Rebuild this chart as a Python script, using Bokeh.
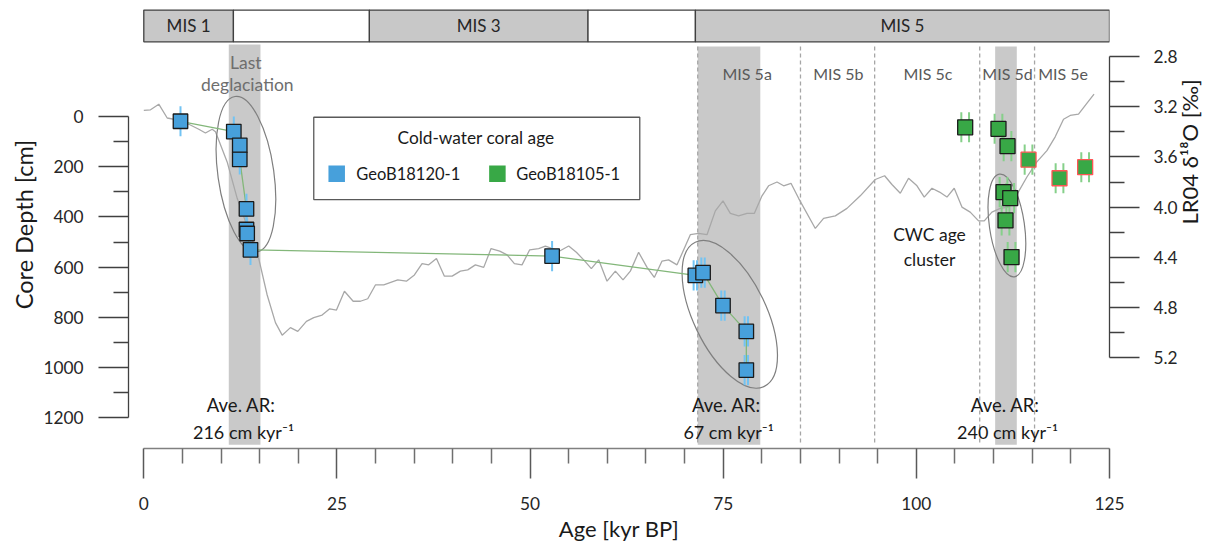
import math
from bokeh.plotting import figure
from bokeh.models import (Range1d, LinearAxis, FixedTicker, ColumnDataSource,
                          NumeralTickFormatter, Title)
from bokeh.core.properties import value
from bokeh.embed import file_html
from bokeh.resources import INLINE

# ---------------- data ----------------
# LR04 benthic d18O stack
lr04_age = [0.0, 0.87, 1.94, 3.03, 3.88, 5.83, 7.12, 7.98, 8.85, 9.28, 10.79,
            12.09, 14.88, 15.97, 17.04, 17.91, 18.98, 19.93, 21.05, 22.00, 23.08,
            24.07, 24.94, 25.97, 27.10, 28.04, 28.99, 29.98, 31.06, 32.87, 33.99,
            35.03, 36.02, 36.88, 37.88, 38.91, 39.91, 40.98, 41.93, 42.92, 44.00,
            44.95, 46.07, 47.02, 47.97, 48.96, 49.95, 51.11, 51.98, 53.83, 55.00,
            55.99, 56.94, 57.93, 58.88, 59.96, 61.04, 62.03, 62.98, 64.05, 65.14,
            66.08, 67.08, 67.93, 69.02, 70.74, 71.82, 72.90, 73.98, 74.97, 75.92,
            76.99, 78.08, 79.02, 80.02, 80.87, 81.96, 82.82, 83.77, 84.76, 86.92,
            87.99, 89.51, 91.02, 92.74, 94.68, 95.89, 96.84, 97.92, 98.99, 100.08,
            101.02, 102.02, 103.00, 103.96, 104.90, 105.90, 106.97, 108.05, 108.79,
            109.78, 110.86, 111.93, 113.10, 114.31, 115.60, 116.90, 117.97, 119.05,
            119.91, 120.99, 121.99, 123.0]
lr04_d18o = [3.23, 3.225, 3.18, 3.29, 3.30, 3.34, 3.38, 3.41, 3.38, 3.40, 3.64,
             3.93, 4.41, 4.70, 4.92, 5.02, 4.96, 4.99, 4.91, 4.88, 4.86,
             4.81, 4.82, 4.67, 4.75, 4.75, 4.73, 4.62, 4.62, 4.58, 4.59,
             4.54, 4.45, 4.46, 4.41, 4.55, 4.55, 4.51, 4.50, 4.46, 4.48,
             4.33, 4.35, 4.38, 4.45, 4.46, 4.34, 4.33, 4.31, 4.35, 4.31,
             4.36, 4.42, 4.49, 4.42, 4.59, 4.51, 4.58, 4.51, 4.36, 4.48,
             4.56, 4.43, 4.42, 4.46, 4.22, 4.21, 4.22, 4.03, 3.95, 4.05,
             4.07, 4.05, 4.05, 3.91, 3.83, 3.80, 3.83, 3.81, 3.93, 4.17,
             4.09, 4.07, 4.01, 3.91, 3.78, 3.75, 3.82, 3.89, 3.77, 3.83,
             3.92, 3.85, 3.88, 3.92, 3.85, 4.00, 4.04, 4.11, 4.11,
             4.04, 4.01, 4.00, 3.89, 3.76, 3.64, 3.55, 3.44, 3.30,
             3.27, 3.26, 3.18, 3.10]

# GeoB18120-1 coral ages (kyr BP) vs core depth (cm)
blue_age = [4.75, 11.65, 12.42, 12.42, 13.29, 13.29, 13.38, 13.81, 52.85,
            71.39, 72.39, 74.97, 77.99, 77.99]
blue_depth = [19, 60, 115, 171, 368, 450, 466, 531, 556, 633, 622, 753, 856, 1010]
blue_err = [60, 60, 60, 60, 60, 60, 60, 60, 60, 60, 60, 60, 60, 60]
blue_double = [0, 0, 0, 0, 0, 0, 0, 0, 0, 1, 1, 1, 1, 1]

# GeoB18105-1 coral ages
green_age = [106.32, 110.63, 111.80, 114.52, 118.53, 121.85, 111.28, 112.15,
             111.54, 112.32]
green_depth = [43, 49, 118, 172, 246, 202, 301, 325, 414, 560]
green_err = [60, 60, 60, 60, 60, 60, 60, 60, 60, 60]
green_flag = [0, 0, 0, 1, 1, 1, 0, 0, 0, 0]

# Marine isotope stages (top bar)
mis_start = [0.0, 11.6, 29.2, 57.5, 71.4]
mis_end = [11.6, 29.2, 57.5, 71.4, 125.0]
mis_label = ["MIS 1", "", "MIS 3", "", "MIS 5"]
mis_shaded = [1, 0, 1, 0, 1]

# shaded periods
band_start = [11.0, 71.7, 110.2]
band_end = [15.1, 79.8, 113.0]

# MIS 5 substage boundaries and labels
sub_bound = [71.7, 85.0, 94.6, 108.2, 115.3]
sub_label = ["MIS 5a", "MIS 5b", "MIS 5c", "MIS 5d", "MIS 5e"]
sub_label_age = [78.1, 89.9, 101.5, 111.8, 119.0]

ar_age = [12.9, 75.7, 111.8]
ar_text = ["216 cm kyr⁻¹", "67 cm kyr⁻¹", "240 cm kyr⁻¹"]

x_ticks = [0, 25, 50, 75, 100, 125]
x_minor = [5, 10, 15, 20, 30, 35, 40, 45, 55, 60, 65, 70, 80, 85, 90, 95,
           105, 110, 115, 120]
y_ticks = [0, 200, 400, 600, 800, 1000, 1200]
y_minor = [100, 300, 500, 700, 900, 1100]
r_ticks = [2.8, 3.2, 3.6, 4.0, 4.4, 4.8, 5.2]
r_minor = [3.0, 3.4, 3.8, 4.2, 4.6, 5.0]

# ---------------- styling ----------------
FONT = "Lato"
BLUE = "#47A0DB"
GREEN = "#38A846"
BLUE_ERR = "#72C3F3"
GREEN_ERR = "#86D08A"
SHADE = "#c9c9c9"
TICK_FS = "17.3px"

p = figure(width=1220, height=546,
           x_range=Range1d(-1.98, 125.0), y_range=Range1d(1322.3, -462.0),
           output_backend="svg", toolbar_location=None,
           min_border_left=128, min_border_right=111, min_border_top=0,
           min_border_bottom=98, outline_line_color=None,
           background_fill_color="white", border_fill_color="white")
p.xgrid.visible = False
p.ygrid.visible = False
p.extra_y_ranges = {"d18o": Range1d(5.923, 2.354)}

# bottom axis
xa = p.xaxis[0]
xa.bounds = (0, 125)
xa.ticker = FixedTicker(ticks=x_ticks, minor_ticks=x_minor)
xa.major_label_standoff = 18
xa.major_label_text_font = FONT
xa.major_label_text_font_size = TICK_FS
xa.major_label_text_color = "#262626"
xa.major_tick_out = 30
xa.major_tick_in = 0
xa.minor_tick_out = 15
xa.minor_tick_in = 0
xa.axis_line_color = "#808080"
xa.axis_line_width = 1.5
xa.major_tick_line_color = "#595959"
xa.major_tick_line_width = 1.5
xa.minor_tick_line_color = "#6f6f6f"
xa.minor_tick_line_width = 1.5

# bottom axis title as a panel title below the axis
p.add_layout(Title(text="Age [kyr BP]", align="center", offset=7, standoff=1,
                   text_font=FONT, text_font_size="22px",
                   text_font_style="normal", text_color="#1a1a1a"), "below")

# left axis
ya = p.yaxis[0]
ya.bounds = (0, 1200)
ya.ticker = FixedTicker(ticks=y_ticks, minor_ticks=y_minor)
ya.axis_label = "Core Depth [cm]"
ya.axis_label_text_font = FONT
ya.axis_label_text_font_size = "23.5px"
ya.axis_label_text_font_style = "normal"
ya.axis_label_text_color = "#1a1a1a"
ya.axis_label_standoff = 2
ya.major_label_standoff = 15
ya.major_label_text_font = FONT
ya.major_label_text_font_size = TICK_FS
ya.major_label_text_color = "#262626"
ya.major_tick_out = 30
ya.major_tick_in = 0
ya.minor_tick_out = 15
ya.minor_tick_in = 0
ya.axis_line_color = "#404040"
ya.axis_line_width = 1.3
ya.major_tick_line_color = "#404040"
ya.major_tick_line_width = 1.3
ya.minor_tick_line_color = "#404040"
ya.minor_tick_line_width = 1.3

# right axis (LR04)
ra = LinearAxis(y_range_name="d18o", bounds=(2.8, 5.2),
                ticker=FixedTicker(ticks=r_ticks, minor_ticks=r_minor),
                formatter=NumeralTickFormatter(format="0.0"))
ra.major_label_standoff = 14
ra.major_label_text_font = FONT
ra.major_label_text_font_size = TICK_FS
ra.major_label_text_color = "#262626"
ra.major_tick_out = 30
ra.major_tick_in = 0
ra.minor_tick_out = 15
ra.minor_tick_in = 0
ra.axis_line_color = "#404040"
ra.axis_line_width = 1.3
ra.major_tick_line_color = "#404040"
ra.major_tick_line_width = 1.3
ra.minor_tick_line_color = "#404040"
ra.minor_tick_line_width = 1.3
ra.axis_label = "LR04 δ¹⁸O [‰]"
ra.axis_label_text_font = FONT
ra.axis_label_text_font_size = "22px"
ra.axis_label_text_font_style = "normal"
ra.axis_label_text_color = "#1a1a1a"
ra.axis_label_standoff = 9
if "axis_label_orientation" in ra.properties():
    # reads bottom-to-top, as in the reference
    ra.axis_label_orientation = math.pi / 2
p.add_layout(ra, "right")

# top MIS bar
mis_src = ColumnDataSource(dict(
    l=mis_start, r=mis_end,
    c=["#c8c8c8" if s else "white" for s in mis_shaded],
    xm=[(a + b) / 2 for a, b in zip(mis_start, mis_end)],
    t=mis_label))
p.quad(left="l", right="r", top=-424, bottom=-297.5, fill_color="c",
       line_color="#404040", line_width=1.3, source=mis_src)
p.text(x="xm", y=-362, text="t", source=mis_src, text_font=value(FONT),
       text_font_size="17px", text_color="#262626", text_align="center",
       text_baseline="middle")

# shaded bands
p.quad(left=band_start, right=band_end, top=[-287, -279, -279],
       bottom=[1307.6] * 3, fill_color=SHADE, line_color=None)

# dashed substage boundaries
p.segment(x0=sub_bound, x1=sub_bound, y0=[-279] * 5, y1=[1302] * 5,
          line_color="#a6a6a6", line_width=1.3, line_dash="4 3")
p.text(x=sub_label_age, y=[-170] * 5, text=sub_label, text_font=value(FONT),
       text_font_size="16px", text_color="#595959", text_align="center",
       text_baseline="middle")

# LR04 curve
p.line(lr04_age, lr04_d18o, y_range_name="d18o", line_color="#a8a8a8",
       line_width=1.3)

# ellipses around groups
p.ellipse(x=[13.22, 75.85, 111.72], y=[230, 788, 434], width=[56, 73, 35],
          height=[157, 160, 104],
          angle=[math.radians(8), math.radians(25.6), math.radians(8.3)],
          width_units="screen", height_units="screen", fill_color=None,
          line_color="#7f7f7f", line_width=1.2)

# annotations
p.text(x=[13.2, 13.4], y=[-216, -126], text=["Last", "deglaciation"],
       text_font=value(FONT), text_font_size="17.5px", text_color="#6e6e6e",
       text_align="center", text_baseline="middle")
p.text(x=[101.7, 101.7], y=[470, 570], text=["CWC age", "cluster"],
       text_font=value(FONT), text_font_size="17.5px", text_color="#1a1a1a",
       text_align="center", text_baseline="middle")
p.text(x=[a - 0.3 for a in ar_age], y=[1151] * 3, text=["Ave. AR:"] * 3,
       text_font=value(FONT), text_font_size="18.5px", text_color="#1a1a1a",
       text_align="center", text_baseline="middle")
p.text(x=ar_age, y=[1255] * 3, text=ar_text,
       text_font=value(FONT), text_font_size="18px", text_color="#1a1a1a",
       text_align="center", text_baseline="middle")

# connecting line (GeoB18120-1 age-depth)
p.line(blue_age, blue_depth, line_color="#83B77A", line_width=1.3)

# error bars
def bars(ages, depths, errs, dbl, gap):
    xs, y0, y1 = [], [], []
    for a, d, e, k in zip(ages, depths, errs, dbl):
        for o in ((-gap, gap) if k else (0.0,)):
            xs.append(a + o)
            y0.append(d - e)
            y1.append(d + e)
    return xs, y0, y1

bx, by0, by1 = bars(blue_age, blue_depth, blue_err, blue_double, 0.22)
p.segment(x0=bx, x1=bx, y0=by0, y1=by1, line_color=BLUE_ERR, line_width=2)
gx, gy0, gy1 = bars(green_age, green_depth, green_err, [1] * len(green_age), 0.5)
p.segment(x0=gx, x1=gx, y0=gy0, y1=gy1, line_color=GREEN_ERR, line_width=2)

# coral age markers
p.scatter(blue_age, blue_depth, marker="square", size=14.5, fill_color=BLUE,
          line_color="#1a1a1a", line_width=1.3)
p.scatter(green_age, green_depth, marker="square", size=15, fill_color=GREEN,
          line_color=["#ff5555" if f else "#1a1a1a" for f in green_flag],
          line_width=1.3)

# legend (drawn manually to keep the centred title)
p.quad(left=22.0, right=64.2, top=3, bottom=331, fill_color="white",
       line_color="#595959", line_width=1.3)
p.text(x=[43.0], y=[82], text=["Cold-water coral age"], text_font=value(FONT),
       text_font_size="17.3px", text_color="#1a1a1a", text_align="center",
       text_baseline="middle")
p.scatter([24.97, 45.77], [228, 228], marker="square", size=16.5,
          fill_color=[BLUE, GREEN], line_color=None)
p.text(x=[27.5, 48.2], y=[228, 228], text=["GeoB18120-1", "GeoB18105-1"],
       text_font=value(FONT), text_font_size="16.5px", text_color="#1a1a1a",
       text_align="left", text_baseline="middle")

open("out.html", "w").write(file_html(p, INLINE))
